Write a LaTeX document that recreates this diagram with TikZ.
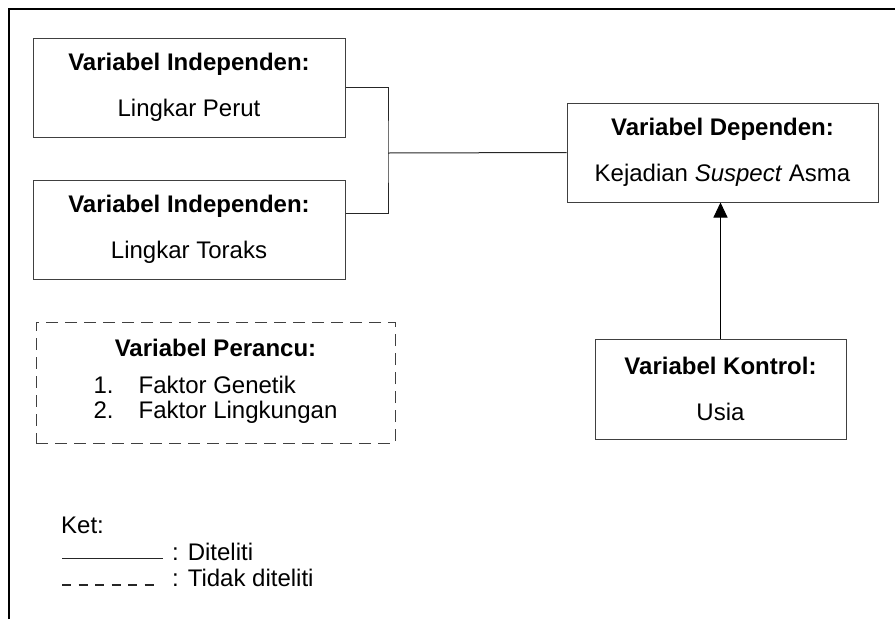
\documentclass[tikz,border=0pt]{standalone}
\usepackage{fontspec}
\setmainfont{Liberation Sans}
\usetikzlibrary{arrows.meta}
\begin{document}
\begin{tikzpicture}[x=1pt,y=-1pt,
    varbox/.style={shape=rectangle,draw=black!75,line width=1pt,align=center,inner sep=0pt,font=\fontsize{24}{46}\selectfont},
    link/.style={draw=black!85,line width=1pt},
    legend/.style={anchor=west,inner sep=0pt,font=\fontsize{24}{28}\selectfont}]
  \useasboundingbox (0,0) rectangle (895,619);
  \draw[line width=2.6pt] (9,619) -- (9,9) -- (895,9);
  \node[varbox,minimum width=312pt,minimum height=99pt] (indep1) at (189,87.5) {\textbf{Variabel Independen:}\\Lingkar Perut};
  \node[varbox,minimum width=312pt,minimum height=99pt] (indep2) at (189,229.5) {\textbf{Variabel Independen:}\\Lingkar Toraks};
  \node[varbox,minimum width=311pt,minimum height=99pt] (dep) at (722.5,152.5) {\textbf{Variabel Dependen:}\\Kejadian \textit{Suspect} Asma};
  \node[varbox,minimum width=251pt,minimum height=100pt] (kontrol) at (720.5,389) {\textbf{Variabel Kontrol:}\\Usia};
  \node[varbox,dashed,dash pattern=on 12pt off 7pt,minimum width=359pt,minimum height=121pt,font=\fontsize{24}{25}\selectfont] (perancu) at (215.5,382.5)
    {\textbf{Variabel Perancu:}\\[18pt]\begin{tabular}{@{}r@{\hspace{25pt}}l@{}}1.&Faktor Genetik\\2.&Faktor Lingkungan\end{tabular}};
  \coordinate (split) at (388,153);
  \draw[link] (indep1.east) -| (split) |- ([yshift=16pt]indep2.east);
  \draw[link] (split) -- (dep.west);
  \draw[link,draw=black,-{Triangle[width=14pt,length=15pt]}] (kontrol.north) -- (kontrol.north |- dep.south);
  % keterangan
  \node[legend] (ket) at (61,525) {Ket:};
  \coordinate (solidA) at (62,558);
  \coordinate (solidB) at (163,558);
  \coordinate (dashA) at (62,585);
  \coordinate (dashB) at (156,585);
  \draw[link] (solidA) -- (solidB);
  \draw[link,line width=1.3pt,dash pattern=on 9pt off 7.5pt] (dashA) -- (dashB);
  \node[legend] (diteliti) at (172,552) {: Diteliti};
  \node[legend] (tidak) at (172,578) {: Tidak diteliti};
\end{tikzpicture}
\end{document}
